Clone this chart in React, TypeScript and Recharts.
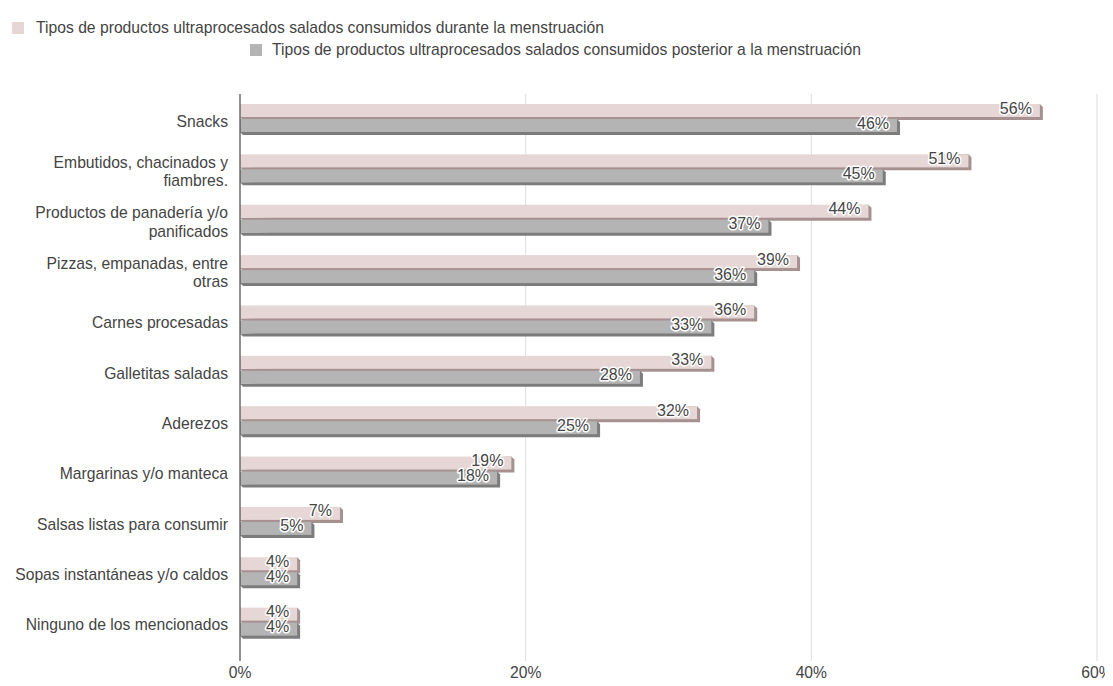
import { Bar, BarChart, CartesianGrid, LabelList, ReferenceLine, XAxis, YAxis } from 'recharts';

const categories = [
	'Snacks',
	'Embutidos, chacinados y\nfiambres.',
	'Productos de panadería y/o\npanificados',
	'Pizzas, empanadas, entre\notras',
	'Carnes procesadas',
	'Galletitas saladas',
	'Aderezos',
	'Margarinas y/o manteca',
	'Salsas listas para consumir',
	'Sopas instantáneas y/o caldos',
	'Ninguno de los mencionados',
];
const durante = [56, 51, 44, 39, 36, 33, 32, 19, 7, 4, 4];
const posterior = [46, 45, 37, 36, 33, 28, 25, 18, 5, 4, 4];
const xTicks = [0, 20, 40, 60];

const serieDurante = 'Tipos de productos ultraprocesados salados consumidos durante la menstruación';
const seriePosterior = 'Tipos de productos ultraprocesados salados consumidos posterior a la menstruación';

const data = categories.map((cat, i) => ({ cat, durante: durante[i], posterior: posterior[i] }));

const FONT = '"Liberation Sans", Arial, sans-serif';
const FS = 15.7;

// barra con efecto 3D (cara + borde inferior/derecho oscuro)
const bar3d = (face: string, edge: string) => (props: any) => {
	const { x, y, width, height } = props;
	if (!width || width <= 0) return null;
	const d = 3;
	const h = height - d;
	return (
		<g>
			<polygon
				points={`${x + width},${y} ${x + width + d},${y + d} ${x + width + d},${y + height} ${x + d},${y + height} ${x},${y + h}`}
				fill={edge}
			/>
			<rect x={x} y={y} width={width} height={h} fill={face} />
		</g>
	);
};

const barLabel = (props: any) => {
	const { x, y, width, height, value } = props;
	return (
		<text
			x={x + width - 8}
			y={y + height / 2 - 4}
			textAnchor='end'
			dominantBaseline='central'
			fontSize={16}
			fontFamily={FONT}
			fill='#444'
			stroke='#fff'
			strokeWidth={3}
			paintOrder='stroke'
			strokeLinejoin='round'>
			{value}%
		</text>
	);
};

const CategoryTick = (props: any) => {
	const { x, y, payload } = props;
	const lines = String(payload.value).split('\n');
	const lh = 18.5;
	const start = y - ((lines.length - 1) * lh) / 2 + 2;
	return (
		<text x={x} y={start} textAnchor='end' fontSize={FS} fontFamily={FONT} fill='#444'>
			{lines.map((l, i) => (
				<tspan key={i} x={x} y={start + i * lh} dominantBaseline='central'>
					{l}
				</tspan>
			))}
		</text>
	);
};

const legendText = { fontSize: FS, fontFamily: FONT, color: '#444', position: 'absolute' as const, whiteSpace: 'nowrap' as const, lineHeight: '18px' };

export default function App() {
	return (
		<div style={{ position: 'relative', width: 1113, height: 686, margin: -8, background: '#fff' }}>
			<div style={{ ...legendText, left: 12, top: 19 }}>
				<span style={{ display: 'inline-block', width: 12, height: 12, background: '#e6d6d6', marginRight: 12, verticalAlign: -1 }} />
				{serieDurante}
			</div>
			<div style={{ ...legendText, left: 250, top: 41 }}>
				<span style={{ display: 'inline-block', width: 12, height: 12, background: '#b4b4b4', marginRight: 10, verticalAlign: -1 }} />
				{seriePosterior}
			</div>
			<BarChart
				width={1113}
				height={686}
				data={data}
				layout='vertical'
				barSize={16}
				barGap={-1}
				margin={{ top: 94, right: 16, bottom: 0, left: 0 }}>
				<CartesianGrid horizontal={false} stroke='#ddd' />
				<XAxis
					type='number'
					domain={[0, 60]}
					ticks={xTicks}
					tickFormatter={(v) => `${v}%`}
					axisLine={false}
					tickLine={false}
					tickMargin={0}
					height={25}
					tick={{ fontSize: FS, fontFamily: FONT, fill: '#444' }}
				/>
				<YAxis
					type='category'
					dataKey='cat'
					width={240}
					axisLine={false}
					tickLine={false}
					tickMargin={6}
					interval={0}
					padding={{ top: 0, bottom: 13 }}
					tick={<CategoryTick />}
				/>
				<ReferenceLine x={0} stroke='#333' strokeWidth={1} />
				<Bar dataKey='durante' name={serieDurante} isAnimationActive={false} shape={bar3d('#e6d6d6', '#a69090')}>
					<LabelList dataKey='durante' content={barLabel} />
				</Bar>
				<Bar dataKey='posterior' name={seriePosterior} isAnimationActive={false} shape={bar3d('#b4b4b4', '#7c7c7c')}>
					<LabelList dataKey='posterior' content={barLabel} />
				</Bar>
			</BarChart>
		</div>
	);
}
